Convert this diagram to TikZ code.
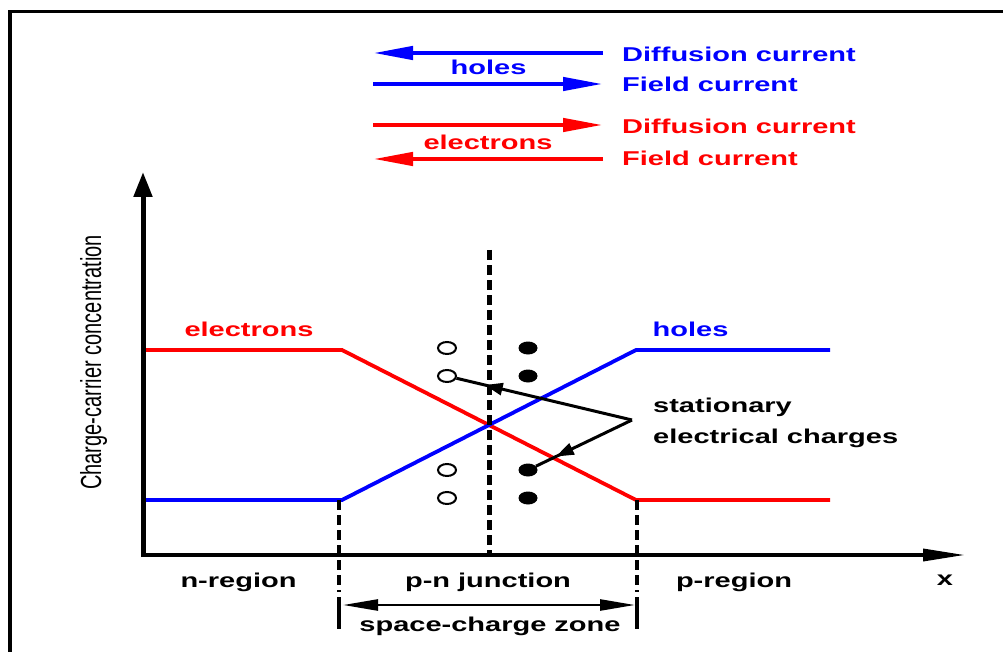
\documentclass[tikz,border=0pt]{standalone}
\usepackage{fontspec}
\usetikzlibrary{arrows.meta,shapes.geometric,decorations.markings}
\newfontfamily\lblfont[FakeStretch=1.45]{Liberation Sans}
\newfontfamily\axisfont[FakeStretch=0.69]{Liberation Sans}

\tikzset{
  lbl/.style={font=\lblfont\bfseries\fontsize{20}{24}\selectfont, inner sep=0pt},
  curve/.style={line width=3.8pt},
  legarrow/.style={line width=4.5pt, -{Triangle[length=40pt,width=13pt]}},
  hole/.style={ellipse, draw, line width=2pt, fill=white, minimum width=18pt, minimum height=12pt, inner sep=0pt},
  fixed/.style={ellipse, fill=black, minimum width=19pt, minimum height=13pt, inner sep=0pt},
  pointer/.style={line width=3pt, postaction={decorate},
    decoration={markings, mark=at position #1 with {\arrow{Triangle[length=18pt,width=12pt]}}}},
  zone/.style={dash pattern=on 10pt off 5pt}
}

\begin{document}
\begin{tikzpicture}[x=1pt, y=-1pt]
  \useasboundingbox (0,0) rectangle (1003,652);
  % Rahmen (nur links und oben sichtbar)
  \draw[line width=3.3pt] (10,700) -- (10,11.5) -- (1040,11.5);

  % Legende oben
  \draw[legarrow, blue] (603,53) -- (373,53);
  \draw[legarrow, blue] (373,84) -- (603,84);
  \draw[legarrow, red] (373,125) -- (603,125);
  \draw[legarrow, red] (603,159) -- (373,159);
  \node[lbl, blue, anchor=base] (hleg) at (488.5,75) {holes};
  \node[lbl, red, anchor=base] (eleg) at (488,150) {electrons};
  \node[lbl, blue, anchor=base west] (hdiff) at (622,61.5) {Diffusion current};
  \node[lbl, blue, anchor=base west] (hfield) at (622,92) {Field current};
  \node[lbl, red, anchor=base west] (ediff) at (622,133.5) {Diffusion current};
  \node[lbl, red, anchor=base west] (efield) at (622,165.5) {Field current};

  % Achsen
  \coordinate (O) at (143,555);
  \draw[line width=5pt, -{Triangle[length=25pt,width=18pt]}] (143,557) -- (143,172);
  \draw[line width=3.5pt, -{Triangle[length=42pt,width=12pt]}] (141,555) -- (965,555);
  \node[rotate=90, anchor=base, font=\axisfont\fontsize{29}{30}\selectfont] (ylab) at (101,362.5) {Charge-carrier concentration};
  \node[lbl, anchor=base] (x) at (945,585) {x};

  % Konzentrationen
  \draw[curve, red] (146,350) -- (342,350) -- (636,500) -- (830,500);
  \draw[curve, blue] (146,500) -- (342,500) -- (636,350) -- (830,350);
  \node[lbl, red, anchor=base] (elab) at (249,336) {electrons};
  \node[lbl, blue, anchor=base] (hlab) at (690.5,336) {holes};

  % Grenzen der Raumladungszone
  \draw[line width=5pt, zone] (489,250) -- (489,555);
  \draw[line width=4pt, zone] (339,500) -- (339,592);
  \draw[line width=4pt] (339,597) -- (339,629);
  \draw[line width=4pt, zone] (637,500) -- (637,592);
  \draw[line width=4pt] (637,597) -- (637,629);
  \draw[line width=2.5pt, {Triangle[length=35pt,width=11pt]}-{Triangle[length=35pt,width=11pt]}] (343,605) -- (635,605);

  \node[lbl, anchor=base] (nreg) at (238.5,587) {n-region};
  \node[lbl, anchor=base] (pn) at (488,587) {p-n junction};
  \node[lbl, anchor=base] (preg) at (734,587) {p-region};
  \node[lbl, anchor=base] (scz) at (490,631) {space-charge zone};

  % ortsfeste Ladungen
  \foreach \y [count=\i] in {348,376,470,498} {
    \node[hole] (o\i) at (447,\y) {};
    \node[fixed] (f\i) at (528,\y) {};
  }
  \coordinate (join) at (632,420);
  \draw[pointer=-29pt] (join) -- (o2);
  \draw[pointer=-22pt] (join) -- (f3);
  \node[lbl, anchor=base west] (stat) at (653,412) {stationary};
  \node[lbl, anchor=base west] (charg) at (653,443) {electrical charges};
\end{tikzpicture}
\end{document}
